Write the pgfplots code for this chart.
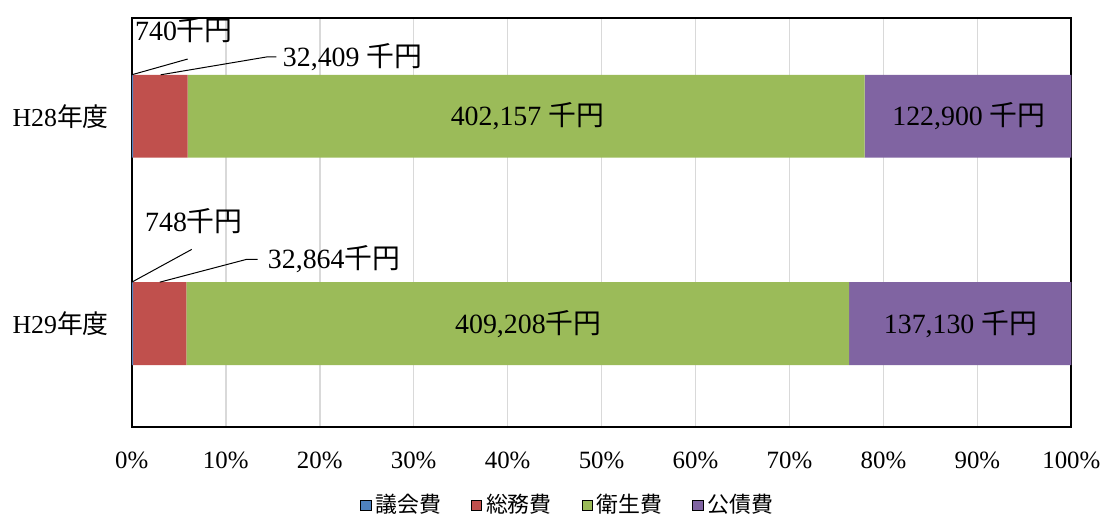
\documentclass[border=0pt]{standalone}
\usepackage{pgfplots}
\pgfplotsset{compat=1.18}
\usepackage{fontspec}
\setmainfont{Liberation Serif}
\newfontfamily\cjkfont{Noto Sans CJK JP}
\definecolor{cA}{HTML}{4F81BD}
\definecolor{cB}{HTML}{C0504D}
\definecolor{cC}{HTML}{9BBB59}
\definecolor{cD}{HTML}{8064A2}
\newcommand{\senen}{{\cjkfont 千円}}
\tikzset{dlab/.style={font=\fontsize{14}{16}\selectfont, inner sep=0pt}}
\begin{document}
\begin{tikzpicture}
\begin{axis}[
 scale only axis, width=470.5bp, height=205bp,
 xbar stacked, bar width=0.4,
 xmin=0, xmax=100, ymin=-0.5, ymax=1.474,
 xtick={0,10,20,30,40,50,60,70,80,90,100},
 xticklabels={0\%,10\%,20\%,30\%,40\%,50\%,60\%,70\%,80\%,90\%,100\%},
 ytick={0,1}, yticklabels={H29{\cjkfont 年度},H28{\cjkfont 年度}},
 major tick length=0pt,
 xmajorgrids, grid style={black!15, line width=0.8bp},
 axis line style={line width=1bp},
 xticklabel style={yshift=-9bp, font=\fontsize{12.5}{14}\selectfont},
 yticklabel style={xshift=-8bp, font=\fontsize{13}{15}\selectfont},
 legend style={at={(0.465,-0.19)}, anchor=center, draw=none, legend columns=4,
   font=\fontsize{11}{13}\selectfont\cjkfont,
   /tikz/every even column/.append style={column sep=13bp}},
 legend image code/.code={\draw[#1] (0bp,-2.6bp) rectangle (5.2bp,2.6bp);},
 clip=false,
]
\addplot[fill=cA, draw=none] coordinates {(0.1326,1) (0.1290,0)};
\addplot[fill=cB, draw=none] coordinates {(5.8059,1) (5.6667,0)};
\addplot[fill=cC, draw=none] coordinates {(72.0446,1) (70.5591,0)};
\addplot[fill=cD, draw=none] coordinates {(22.0169,1) (23.6451,0)};
\legend{議会費,総務費,衛生費,公債費}
\coordinate (a0) at (axis cs:0,1.2);
\coordinate (a1) at (axis cs:5.95,1.276);
\coordinate (b0) at (axis cs:3.08,1.2);
\coordinate (b1) at (axis cs:14.35,1.286);
\coordinate (b2) at (axis cs:15.4,1.286);
\coordinate (c0) at (axis cs:0,0.2);
\coordinate (c1) at (axis cs:6.38,0.358);
\coordinate (d0) at (axis cs:2.98,0.2);
\coordinate (d1) at (axis cs:12.22,0.31);
\coordinate (d2) at (axis cs:13.39,0.31);
\coordinate (l1) at (axis cs:0.32,1.416);
\coordinate (l2) at (axis cs:16.05,1.286);
\coordinate (l3) at (axis cs:1.38,0.493);
\coordinate (l4) at (axis cs:14.45,0.31);
\coordinate (m1) at (axis cs:42.1,1);
\coordinate (m2) at (axis cs:89.1,1);
\coordinate (m3) at (axis cs:42.2,0);
\coordinate (m4) at (axis cs:88.2,0);
\end{axis}
\draw[line width=0.5bp] (a0) -- (a1);
\draw[line width=0.5bp] (b0) -- (b1) -- (b2);
\draw[line width=0.5bp] (c0) -- (c1);
\draw[line width=0.5bp] (d0) -- (d1) -- (d2);
\node[dlab, anchor=west] at (l1) {740\senen};
\node[dlab, anchor=west] at (l2) {32,409 \senen};
\node[dlab, anchor=west] at (l3) {748\senen};
\node[dlab, anchor=west] at (l4) {32,864\senen};
\node[dlab] at (m1) {402,157 \senen};
\node[dlab] at (m2) {122,900 \senen};
\node[dlab] at (m3) {409,208\senen};
\node[dlab] at (m4) {137,130 \senen};
\path ([shift={(-66bp,-45bp)}]current axis.south west) rectangle ([shift={(17bp,9bp)}]current axis.north east);
\end{tikzpicture}
\end{document}
